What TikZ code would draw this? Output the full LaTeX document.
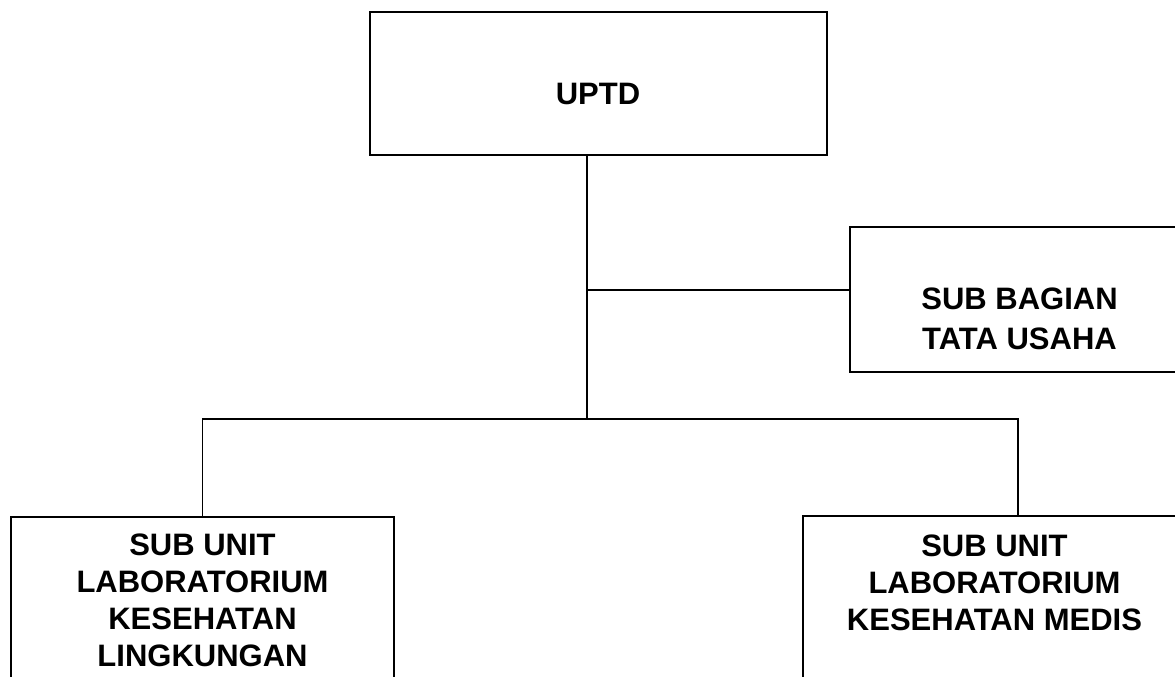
\documentclass[tikz,border=0pt]{standalone}
\usepackage{fontspec}
\setmainfont{Liberation Sans}
\begin{document}
\begin{tikzpicture}[x=1pt,y=-1pt, line width=1.5pt,
  box/.style={draw, rectangle, inner sep=0pt},
  lbl/.style={font=\bfseries\fontsize{31}{37}\selectfont, align=center, inner sep=0pt}]
\useasboundingbox (0,0) rectangle (1175,677);
\clip (0,0) rectangle (1175,677);
% boxes
\node[box, minimum width=457pt, minimum height=143pt] (uptd) at (598.5,83.5) {};
\node[box, minimum width=340pt, minimum height=145pt] (bagian) at (1020,299.5) {};
\node[box, anchor=north, minimum width=383pt, minimum height=200pt] (left) at (202.5,516) {};
\node[box, anchor=north, minimum width=383pt, minimum height=200pt] (right) at (994.5,515) {};
% texts
\node[lbl] (uptdt) at (598,94.4) {UPTD};
\node[lbl, font=\bfseries\fontsize{31}{40}\selectfont] (bagiant) at (1019.5,319) {SUB BAGIAN\\TATA USAHA};
\node[lbl] (leftt) at (202.5,600) {SUB UNIT\\LABORATORIUM\\KESEHATAN\\LINGKUNGAN};
\node[lbl] (rightt) at (994.5,582.5) {SUB UNIT\\LABORATORIUM\\KESEHATAN MEDIS};
% connectors
\coordinate (j1) at (587,290);
\coordinate (j2) at (587,419);
\coordinate (r) at (1018,419);
\draw (uptd.south -| j1) -- (j2);
\draw (j1) -- (bagian.west |- j1);
\draw (left.north) |- (r) -- (r |- right.north);
\end{tikzpicture}
\end{document}
